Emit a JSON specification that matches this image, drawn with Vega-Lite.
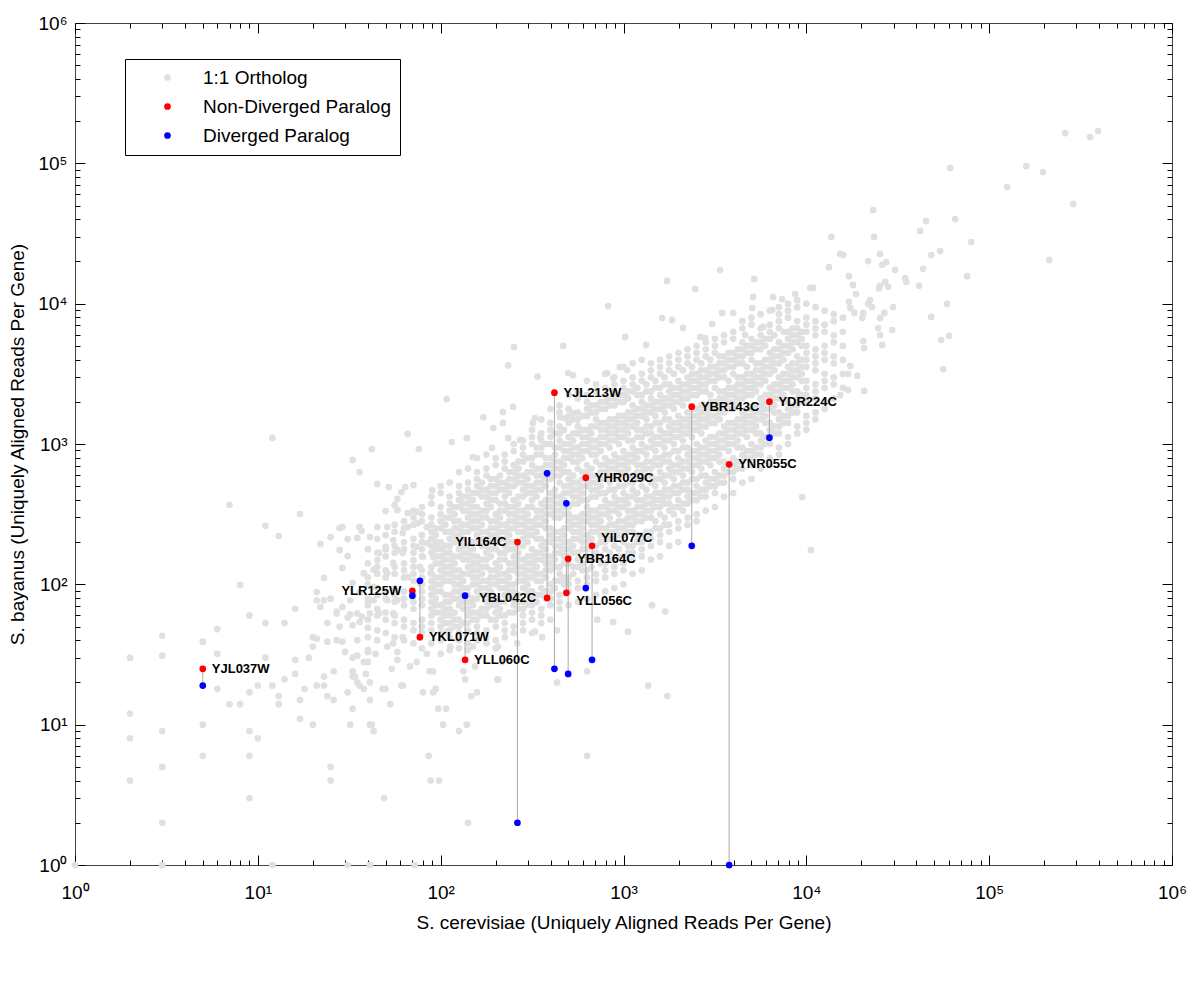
{
"$schema": "https://vega.github.io/schema/vega-lite/v6.json",
"width": 1097, "height": 842,
"autosize": {"type": "none"},
"padding": {"left": 75, "top": 23, "right": 28, "bottom": 117},
"background": "white",
"config": {"view": {"stroke": "#444444", "strokeWidth": 1}, "font": "Liberation Sans"},
"datasets": {
"paralog": [
{"gene":"YJL037W","sc":5,"Non-Diverged Paralog":25,"Diverged Paralog":19},
{"gene":"YLR125W","sc":70,"Non-Diverged Paralog":90,"Diverged Paralog":83},
{"gene":"YKL071W","sc":77,"Non-Diverged Paralog":42,"Diverged Paralog":106},
{"gene":"YLL060C","sc":136,"Non-Diverged Paralog":29,"Diverged Paralog":83},
{"gene":"YIL164C","sc":263,"Non-Diverged Paralog":200,"Diverged Paralog":2},
{"gene":"YBL042C","sc":382,"Non-Diverged Paralog":80,"Diverged Paralog":618},
{"gene":"YJL213W","sc":419,"Non-Diverged Paralog":2321,"Diverged Paralog":25},
{"gene":"YLL056C","sc":487,"Non-Diverged Paralog":87,"Diverged Paralog":378},
{"gene":"YBR164C","sc":498,"Non-Diverged Paralog":152,"Diverged Paralog":23},
{"gene":"YHR029C","sc":622,"Non-Diverged Paralog":575,"Diverged Paralog":94},
{"gene":"YIL077C","sc":673,"Non-Diverged Paralog":188,"Diverged Paralog":29},
{"gene":"YBR143C","sc":2362,"Non-Diverged Paralog":1845,"Diverged Paralog":188},
{"gene":"YNR055C","sc":3783,"Non-Diverged Paralog":717,"Diverged Paralog":1},
{"gene":"YDR224C","sc":6282,"Non-Diverged Paralog":2001,"Diverged Paralog":1109}
],
"ortholog": [
{"sc":2,"sb":30},{"sc":3,"sb":43},{"sc":3,"sb":31},{"sc":5,"sb":39},{"sc":6,"sb":48},{"sc":6,"sb":32},{"sc":6,"sb":18},{"sc":9,"sb":60},{"sc":11,"sb":53},{"sc":11,"sb":30},{"sc":9,"sb":17},{"sc":10,"sb":19},{"sc":7,"sb":14},{"sc":8,"sb":14},{"sc":2,"sb":12},{"sc":2,"sb":8},{"sc":2,"sb":4},{"sc":3,"sb":9},{"sc":3,"sb":5},{"sc":3,"sb":2},{"sc":5,"sb":10},{"sc":5,"sb":6},{"sc":9,"sb":9},{"sc":10,"sb":8},{"sc":9,"sb":6},{"sc":9,"sb":3},{"sc":14,"sb":53},{"sc":16,"sb":67},{"sc":16,"sb":29},{"sc":14,"sb":21},{"sc":16,"sb":23},{"sc":12,"sb":19},{"sc":13,"sb":16},{"sc":13,"sb":14},{"sc":18,"sb":18},{"sc":17,"sb":15},{"sc":17,"sb":11},{"sc":20,"sb":10},{"sc":19,"sb":30},{"sc":21,"sb":41},{"sc":20,"sb":36},{"sc":24,"sb":39},{"sc":21,"sb":19},{"sc":23,"sb":19},{"sc":24,"sb":16},{"sc":26,"sb":15},{"sc":25,"sb":5},{"sc":25,"sb":4},{"sc":32,"sb":10},{"sc":41,"sb":10},{"sc":43,"sb":9},{"sc":33,"sb":13},{"sc":31,"sb":17},{"sc":35,"sb":20},{"sc":38,"sb":18},{"sc":41,"sb":15},{"sc":33,"sb":22},{"sc":26,"sb":24},{"sc":23,"sb":22},{"sc":30,"sb":33},{"sc":35,"sb":31},{"sc":40,"sb":33},{"sc":40,"sb":28},{"sc":21,"sb":77},{"sc":22,"sb":69},{"sc":27,"sb":64},{"sc":32,"sb":61},{"sc":37,"sb":59},{"sc":40,"sb":74},{"sc":24,"sb":53},{"sc":28,"sb":50},{"sc":33,"sb":51},{"sc":36,"sb":54},{"sc":40,"sb":49},{"sc":20,"sb":42},{"sc":27,"sb":40},{"sc":29,"sb":39},{"sc":40,"sb":42},
{"sc":1,"sb":1},{"sc":3,"sb":1},{"sc":12,"sb":1},{"sc":31,"sb":1},{"sc":41,"sb":1},{"sc":72,"sb":1},
{"sc":7,"sb":369},{"sc":12,"sb":1104},{"sc":17,"sb":317},{"sc":11,"sb":261},{"sc":13,"sb":221},{"sc":8,"sb":99},{"sc":22,"sb":194},{"sc":25,"sb":217},{"sc":28,"sb":252},{"sc":33,"sb":770},{"sc":36,"sb":631},{"sc":42,"sb":921},{"sc":45,"sb":519},{"sc":52,"sb":494},{"sc":66,"sb":1180},{"sc":76,"sb":921},{"sc":71,"sb":510},{"sc":90,"sb":470},{"sc":64,"sb":494},{"sc":61,"sb":455},{"sc":58,"sb":406},{"sc":56,"sb":368},{"sc":50,"sb":333},{"sc":29,"sb":256},{"sc":36,"sb":256},{"sc":37,"sb":240},{"sc":45,"sb":256},{"sc":35,"sb":214},{"sc":31,"sb":210},{"sc":28,"sb":176},{"sc":31,"sb":159},{"sc":29,"sb":131},{"sc":23,"sb":111},{"sc":21,"sb":88},{"sc":23,"sb":77},{"sc":25,"sb":79},{"sc":27,"sb":62},{"sc":29,"sb":69},{"sc":32,"sb":77},{"sc":33,"sb":102},{"sc":38,"sb":120},{"sc":43,"sb":127},{"sc":45,"sb":149},{"sc":50,"sb":185},{"sc":55,"sb":207},{"sc":58,"sb":176},{"sc":62,"sb":232},{"sc":66,"sb":256},{"sc":75,"sb":274},{"sc":84,"sb":256},{"sc":91,"sb":236},{"sc":84,"sb":197},{"sc":80,"sb":157},{"sc":74,"sb":185},{"sc":71,"sb":149},{"sc":77,"sb":133},{"sc":88,"sb":120},{"sc":91,"sb":157},{"sc":97,"sb":185},{"sc":58,"sb":339},{"sc":66,"sb":322},{"sc":74,"sb":328},{"sc":51,"sb":256},{"sc":41,"sb":217},{"sc":46,"sb":167},{"sc":62,"sb":167},{"sc":55,"sb":142},{"sc":51,"sb":120},{"sc":66,"sb":113},{"sc":77,"sb":102},{"sc":91,"sb":96},{"sc":43,"sb":96},{"sc":36,"sb":87},{"sc":43,"sb":77},{"sc":51,"sb":77},{"sc":58,"sb":77},{"sc":35,"sb":62},{"sc":41,"sb":62},{"sc":46,"sb":62},{"sc":55,"sb":62},{"sc":31,"sb":58},
{"sc":86,"sb":6},{"sc":88,"sb":4},{"sc":98,"sb":4},{"sc":49,"sb":3},{"sc":141,"sb":2},{"sc":632,"sb":6},{"sc":126,"sb":9},{"sc":139,"sb":10},{"sc":103,"sb":10},{"sc":42,"sb":10},{"sc":97,"sb":13},{"sc":107,"sb":13},{"sc":53,"sb":14},{"sc":158,"sb":17},{"sc":147,"sb":16},{"sc":80,"sb":17},{"sc":91,"sb":17},{"sc":94,"sb":18},{"sc":61,"sb":19},{"sc":48,"sb":18},{"sc":206,"sb":21},{"sc":433,"sb":20},{"sc":632,"sb":24},{"sc":1364,"sb":19},{"sc":1738,"sb":16},{"sc":1059,"sb":46},{"sc":1433,"sb":71},{"sc":1690,"sb":64},{"sc":718,"sb":56},{"sc":877,"sb":54},{"sc":433,"sb":47},{"sc":328,"sb":46},{"sc":359,"sb":42},{"sc":262,"sb":38},{"sc":206,"sb":36},{"sc":217,"sb":28},{"sc":204,"sb":21},{"sc":150,"sb":36},{"sc":160,"sb":40},{"sc":133,"sb":24},{"sc":154,"sb":26},{"sc":136,"sb":21},{"sc":113,"sb":36},{"sc":108,"sb":46},{"sc":84,"sb":32},{"sc":87,"sb":24},{"sc":91,"sb":24},{"sc":68,"sb":26},{"sc":74,"sb":28},{"sc":62,"sb":19},{"sc":58,"sb":29},{"sc":54,"sb":25},{"sc":50,"sb":18},{"sc":39,"sb":23},{"sc":34,"sb":22},{"sc":41,"sb":20},{"sc":36,"sb":19},{"sc":33,"sb":24},{"sc":38,"sb":28},{"sc":44,"sb":32},{"sc":40,"sb":34},{"sc":35,"sb":40},{"sc":33,"sb":30},{"sc":45,"sb":40},{"sc":51,"sb":36},{"sc":55,"sb":38},{"sc":58,"sb":33},{"sc":62,"sb":42},
{"sc":252,"sb":4910},{"sc":468,"sb":5012},{"sc":234,"sb":3631},{"sc":339,"sb":3020},{"sc":498,"sb":3206},{"sc":530,"sb":3090},{"sc":108,"sb":2089},{"sc":171,"sb":1549},{"sc":219,"sb":1690},{"sc":249,"sb":1837},{"sc":115,"sb":1033},{"sc":139,"sb":1104},{"sc":194,"sb":1300},{"sc":219,"sb":1413},{"sc":328,"sb":1531},{"sc":320,"sb":1413},{"sc":150,"sb":807},{"sc":191,"sb":938},{"sc":234,"sb":1104},{"sc":272,"sb":1069},{"sc":350,"sb":1122},{"sc":450,"sb":1556},{"sc":479,"sb":1531},{"sc":530,"sb":1663},{"sc":1021,"sb":5794},{"sc":955,"sb":3540},{"sc":1047,"sb":3365},{"sc":813,"sb":3206},{"sc":877,"sb":2951},
{"sc":3373,"sb":17378},{"sc":1730,"sb":14521},{"sc":5176,"sb":14997},{"sc":2466,"sb":12735},{"sc":824,"sb":9616},{"sc":5117,"sb":11169},{"sc":6577,"sb":11169},{"sc":7379,"sb":10789},{"sc":8690,"sb":11722},{"sc":10495,"sb":12942},{"sc":10889,"sb":12942},{"sc":5058,"sb":9311},{"sc":6501,"sb":9016},{"sc":1626,"sb":7907},{"sc":1845,"sb":7656},{"sc":2118,"sb":6714},{"sc":3459,"sb":8590},{"sc":3981,"sb":8590},{"sc":3055,"sb":7161},{"sc":5808,"sb":6823},{"sc":1330,"sb":5082},{"sc":2624,"sb":5794},{"sc":2793,"sb":5689},{"sc":4624,"sb":5984},
{"sc":61200,"sb":92700},{"sc":159600,"sb":95700},{"sc":197000,"sb":86700},{"sc":125400,"sb":67800},{"sc":260600,"sb":164400},{"sc":356000,"sb":154000},{"sc":394500,"sb":170000},{"sc":288000,"sb":51300},{"sc":213000,"sb":20500},{"sc":79800,"sb":27500},{"sc":65200,"sb":40100},{"sc":75800,"sb":15700},{"sc":58900,"sb":9950},{"sc":48200,"sb":8040},{"sc":54600,"sb":5510},{"sc":60400,"sb":5890},{"sc":56000,"sb":3420},{"sc":45200,"sb":38800},{"sc":41900,"sb":33000},{"sc":54000,"sb":23700},{"sc":48200,"sb":22200},{"sc":43500,"sb":17700},{"sc":41400,"sb":13400},{"sc":35200,"sb":14300},{"sc":34700,"sb":15200},{"sc":30600,"sb":17400},{"sc":23200,"sb":46500},{"sc":23500,"sb":29900},{"sc":13700,"sb":29900},{"sc":15300,"sb":22600},{"sc":15900,"sb":22200},{"sc":13300,"sb":18200},{"sc":21800,"sb":20100},{"sc":25300,"sb":22600},{"sc":26000,"sb":18900},{"sc":27300,"sb":19800},{"sc":17100,"sb":15700},{"sc":18000,"sb":13600},{"sc":18700,"sb":11700},{"sc":25300,"sb":13400},{"sc":25000,"sb":12900},{"sc":27000,"sb":14300},{"sc":28000,"sb":13200},{"sc":29800,"sb":9460},{"sc":26700,"sb":8590},{"sc":25300,"sb":7910},{"sc":29500,"sb":6490},{"sc":24700,"sb":6710},{"sc":25300,"sb":5980},{"sc":26000,"sb":5080},{"sc":20500,"sb":5420},{"sc":20700,"sb":4830},{"sc":17400,"sb":3600},{"sc":16900,"sb":3160},{"sc":19000,"sb":3060},{"sc":20700,"sb":2390},{"sc":16900,"sb":2430},{"sc":15300,"sb":2230},{"sc":17100,"sb":10300},{"sc":17400,"sb":9310},{"sc":18300,"sb":8590},{"sc":22300,"sb":10600},{"sc":21800,"sb":9950},{"sc":22900,"sb":9460},{"sc":20500,"sb":8590},{"sc":20200,"sb":7910},{"sc":9480,"sb":419},{"sc":10600,"sb":176},
{"sc":40,"sb":56},{"sc":40,"sb":71},{"sc":40,"sb":79},{"sc":40,"sb":100},{"sc":40,"sb":112},{"sc":40,"sb":141},{"sc":40,"sb":178},
{"sc":45,"sb":47},{"sc":45,"sb":60},{"sc":45,"sb":67},{"sc":45,"sb":84},{"sc":45,"sb":94},{"sc":45,"sb":119},{"sc":45,"sb":133},{"sc":45,"sb":168},{"sc":45,"sb":211},
{"sc":50,"sb":45},{"sc":50,"sb":56},{"sc":50,"sb":63},{"sc":50,"sb":79},{"sc":50,"sb":89},{"sc":50,"sb":112},{"sc":50,"sb":126},{"sc":50,"sb":158},{"sc":50,"sb":178},{"sc":50,"sb":224},
{"sc":56,"sb":42},{"sc":56,"sb":53},{"sc":56,"sb":60},{"sc":56,"sb":75},{"sc":56,"sb":84},{"sc":56,"sb":94},{"sc":56,"sb":119},{"sc":56,"sb":133},{"sc":56,"sb":168},{"sc":56,"sb":188},{"sc":56,"sb":237},{"sc":56,"sb":266},
{"sc":63,"sb":40},{"sc":63,"sb":50},{"sc":63,"sb":56},{"sc":63,"sb":71},{"sc":63,"sb":79},{"sc":63,"sb":89},{"sc":63,"sb":112},{"sc":63,"sb":126},{"sc":63,"sb":141},{"sc":63,"sb":178},{"sc":63,"sb":200},{"sc":63,"sb":251},{"sc":63,"sb":282},
{"sc":71,"sb":38},{"sc":71,"sb":47},{"sc":71,"sb":53},{"sc":71,"sb":67},{"sc":71,"sb":75},{"sc":71,"sb":84},{"sc":71,"sb":106},{"sc":71,"sb":119},{"sc":71,"sb":133},{"sc":71,"sb":168},{"sc":71,"sb":188},{"sc":71,"sb":211},{"sc":71,"sb":266},{"sc":71,"sb":299},{"sc":71,"sb":335},
{"sc":79,"sb":35},{"sc":79,"sb":45},{"sc":79,"sb":50},{"sc":79,"sb":56},{"sc":79,"sb":71},{"sc":79,"sb":79},{"sc":79,"sb":89},{"sc":79,"sb":100},{"sc":79,"sb":112},{"sc":79,"sb":126},{"sc":79,"sb":158},{"sc":79,"sb":178},{"sc":79,"sb":200},{"sc":79,"sb":224},{"sc":79,"sb":282},{"sc":79,"sb":316},{"sc":79,"sb":355},
{"sc":89,"sb":38},{"sc":89,"sb":47},{"sc":89,"sb":53},{"sc":89,"sb":60},{"sc":89,"sb":67},{"sc":89,"sb":75},{"sc":89,"sb":84},{"sc":89,"sb":94},{"sc":89,"sb":106},{"sc":89,"sb":119},{"sc":89,"sb":133},{"sc":89,"sb":168},{"sc":89,"sb":188},{"sc":89,"sb":211},{"sc":89,"sb":237},{"sc":89,"sb":266},{"sc":89,"sb":299},{"sc":89,"sb":376},{"sc":89,"sb":422},
{"sc":100,"sb":32},{"sc":100,"sb":40},{"sc":100,"sb":45},{"sc":100,"sb":50},{"sc":100,"sb":56},{"sc":100,"sb":63},{"sc":100,"sb":71},{"sc":100,"sb":89},{"sc":100,"sb":100},{"sc":100,"sb":112},{"sc":100,"sb":126},{"sc":100,"sb":141},{"sc":100,"sb":158},{"sc":100,"sb":178},{"sc":100,"sb":200},{"sc":100,"sb":251},{"sc":100,"sb":282},{"sc":100,"sb":316},{"sc":100,"sb":355},{"sc":100,"sb":447},{"sc":100,"sb":501},
{"sc":112,"sb":34},{"sc":112,"sb":42},{"sc":112,"sb":47},{"sc":112,"sb":53},{"sc":112,"sb":60},{"sc":112,"sb":67},{"sc":112,"sb":75},{"sc":112,"sb":84},{"sc":112,"sb":106},{"sc":112,"sb":119},{"sc":112,"sb":133},{"sc":112,"sb":150},{"sc":112,"sb":168},{"sc":112,"sb":188},{"sc":112,"sb":211},{"sc":112,"sb":237},{"sc":112,"sb":299},{"sc":112,"sb":335},{"sc":112,"sb":376},{"sc":112,"sb":422},{"sc":112,"sb":531},
{"sc":126,"sb":35},{"sc":126,"sb":40},{"sc":126,"sb":45},{"sc":126,"sb":50},{"sc":126,"sb":56},{"sc":126,"sb":71},{"sc":126,"sb":79},{"sc":126,"sb":89},{"sc":126,"sb":100},{"sc":126,"sb":112},{"sc":126,"sb":126},{"sc":126,"sb":158},{"sc":126,"sb":178},{"sc":126,"sb":200},{"sc":126,"sb":224},{"sc":126,"sb":251},{"sc":126,"sb":282},{"sc":126,"sb":355},{"sc":126,"sb":398},{"sc":126,"sb":447},{"sc":126,"sb":501},{"sc":126,"sb":631},
{"sc":141,"sb":34},{"sc":141,"sb":38},{"sc":141,"sb":47},{"sc":141,"sb":53},{"sc":141,"sb":60},{"sc":141,"sb":67},{"sc":141,"sb":75},{"sc":141,"sb":84},{"sc":141,"sb":94},{"sc":141,"sb":119},{"sc":141,"sb":133},{"sc":141,"sb":150},{"sc":141,"sb":168},{"sc":141,"sb":188},{"sc":141,"sb":237},{"sc":141,"sb":266},{"sc":141,"sb":299},{"sc":141,"sb":335},{"sc":141,"sb":376},{"sc":141,"sb":422},{"sc":141,"sb":473},{"sc":141,"sb":531},{"sc":141,"sb":668},
{"sc":158,"sb":40},{"sc":158,"sb":45},{"sc":158,"sb":50},{"sc":158,"sb":56},{"sc":158,"sb":63},{"sc":158,"sb":79},{"sc":158,"sb":89},{"sc":158,"sb":100},{"sc":158,"sb":112},{"sc":158,"sb":126},{"sc":158,"sb":141},{"sc":158,"sb":158},{"sc":158,"sb":200},{"sc":158,"sb":224},{"sc":158,"sb":251},{"sc":158,"sb":282},{"sc":158,"sb":316},{"sc":158,"sb":355},{"sc":158,"sb":447},{"sc":158,"sb":501},{"sc":158,"sb":562},{"sc":158,"sb":631},{"sc":158,"sb":794},
{"sc":178,"sb":38},{"sc":178,"sb":42},{"sc":178,"sb":47},{"sc":178,"sb":60},{"sc":178,"sb":67},{"sc":178,"sb":75},{"sc":178,"sb":84},{"sc":178,"sb":94},{"sc":178,"sb":106},{"sc":178,"sb":133},{"sc":178,"sb":150},{"sc":178,"sb":168},{"sc":178,"sb":188},{"sc":178,"sb":211},{"sc":178,"sb":237},{"sc":178,"sb":299},{"sc":178,"sb":335},{"sc":178,"sb":376},{"sc":178,"sb":422},{"sc":178,"sb":473},{"sc":178,"sb":596},{"sc":178,"sb":668},{"sc":178,"sb":841},
{"sc":200,"sb":35},{"sc":200,"sb":40},{"sc":200,"sb":50},{"sc":200,"sb":56},{"sc":200,"sb":63},{"sc":200,"sb":71},{"sc":200,"sb":79},{"sc":200,"sb":100},{"sc":200,"sb":112},{"sc":200,"sb":126},{"sc":200,"sb":141},{"sc":200,"sb":178},{"sc":200,"sb":200},{"sc":200,"sb":224},{"sc":200,"sb":251},{"sc":200,"sb":282},{"sc":200,"sb":316},{"sc":200,"sb":398},{"sc":200,"sb":447},{"sc":200,"sb":501},{"sc":200,"sb":562},{"sc":200,"sb":708},{"sc":200,"sb":794},
{"sc":224,"sb":42},{"sc":224,"sb":47},{"sc":224,"sb":53},{"sc":224,"sb":60},{"sc":224,"sb":75},{"sc":224,"sb":84},{"sc":224,"sb":94},{"sc":224,"sb":106},{"sc":224,"sb":119},{"sc":224,"sb":150},{"sc":224,"sb":168},{"sc":224,"sb":188},{"sc":224,"sb":211},{"sc":224,"sb":237},{"sc":224,"sb":266},{"sc":224,"sb":335},{"sc":224,"sb":376},{"sc":224,"sb":422},{"sc":224,"sb":473},{"sc":224,"sb":531},{"sc":224,"sb":668},{"sc":224,"sb":750},{"sc":224,"sb":841},
{"sc":251,"sb":45},{"sc":251,"sb":50},{"sc":251,"sb":63},{"sc":251,"sb":71},{"sc":251,"sb":79},{"sc":251,"sb":89},{"sc":251,"sb":100},{"sc":251,"sb":126},{"sc":251,"sb":141},{"sc":251,"sb":158},{"sc":251,"sb":178},{"sc":251,"sb":200},{"sc":251,"sb":251},{"sc":251,"sb":282},{"sc":251,"sb":316},{"sc":251,"sb":355},{"sc":251,"sb":398},{"sc":251,"sb":501},{"sc":251,"sb":562},{"sc":251,"sb":631},{"sc":251,"sb":708},{"sc":251,"sb":891},{"sc":251,"sb":1000},
{"sc":282,"sb":47},{"sc":282,"sb":53},{"sc":282,"sb":60},{"sc":282,"sb":67},{"sc":282,"sb":75},{"sc":282,"sb":94},{"sc":282,"sb":106},{"sc":282,"sb":119},{"sc":282,"sb":133},{"sc":282,"sb":150},{"sc":282,"sb":188},{"sc":282,"sb":211},{"sc":282,"sb":237},{"sc":282,"sb":266},{"sc":282,"sb":299},{"sc":282,"sb":335},{"sc":282,"sb":422},{"sc":282,"sb":473},{"sc":282,"sb":531},{"sc":282,"sb":596},{"sc":282,"sb":750},{"sc":282,"sb":841},{"sc":282,"sb":944},{"sc":282,"sb":1059},
{"sc":316,"sb":45},{"sc":316,"sb":56},{"sc":316,"sb":63},{"sc":316,"sb":71},{"sc":316,"sb":79},{"sc":316,"sb":89},{"sc":316,"sb":112},{"sc":316,"sb":126},{"sc":316,"sb":141},{"sc":316,"sb":158},{"sc":316,"sb":178},{"sc":316,"sb":224},{"sc":316,"sb":251},{"sc":316,"sb":282},{"sc":316,"sb":355},{"sc":316,"sb":398},{"sc":316,"sb":447},{"sc":316,"sb":501},{"sc":316,"sb":631},{"sc":316,"sb":708},{"sc":316,"sb":794},{"sc":316,"sb":1000},{"sc":316,"sb":1122},{"sc":316,"sb":1259},
{"sc":355,"sb":53},{"sc":355,"sb":60},{"sc":355,"sb":67},{"sc":355,"sb":84},{"sc":355,"sb":94},{"sc":355,"sb":106},{"sc":355,"sb":119},{"sc":355,"sb":150},{"sc":355,"sb":168},{"sc":355,"sb":188},{"sc":355,"sb":211},{"sc":355,"sb":266},{"sc":355,"sb":299},{"sc":355,"sb":335},{"sc":355,"sb":376},{"sc":355,"sb":473},{"sc":355,"sb":531},{"sc":355,"sb":596},{"sc":355,"sb":668},{"sc":355,"sb":841},{"sc":355,"sb":944},{"sc":355,"sb":1059},{"sc":355,"sb":1189},{"sc":355,"sb":1496},
{"sc":398,"sb":56},{"sc":398,"sb":71},{"sc":398,"sb":79},{"sc":398,"sb":89},{"sc":398,"sb":100},{"sc":398,"sb":126},{"sc":398,"sb":141},{"sc":398,"sb":158},{"sc":398,"sb":200},{"sc":398,"sb":224},{"sc":398,"sb":251},{"sc":398,"sb":316},{"sc":398,"sb":355},{"sc":398,"sb":398},{"sc":398,"sb":447},{"sc":398,"sb":562},{"sc":398,"sb":631},{"sc":398,"sb":708},{"sc":398,"sb":794},{"sc":398,"sb":1000},{"sc":398,"sb":1122},{"sc":398,"sb":1259},{"sc":398,"sb":1413},{"sc":398,"sb":1778},
{"sc":447,"sb":67},{"sc":447,"sb":75},{"sc":447,"sb":84},{"sc":447,"sb":106},{"sc":447,"sb":119},{"sc":447,"sb":133},{"sc":447,"sb":168},{"sc":447,"sb":188},{"sc":447,"sb":211},{"sc":447,"sb":237},{"sc":447,"sb":299},{"sc":447,"sb":335},{"sc":447,"sb":376},{"sc":447,"sb":422},{"sc":447,"sb":531},{"sc":447,"sb":596},{"sc":447,"sb":668},{"sc":447,"sb":750},{"sc":447,"sb":944},{"sc":447,"sb":1059},{"sc":447,"sb":1189},{"sc":447,"sb":1334},{"sc":447,"sb":1679},{"sc":447,"sb":1884},
{"sc":501,"sb":71},{"sc":501,"sb":89},{"sc":501,"sb":100},{"sc":501,"sb":112},{"sc":501,"sb":141},{"sc":501,"sb":158},{"sc":501,"sb":178},{"sc":501,"sb":200},{"sc":501,"sb":251},{"sc":501,"sb":282},{"sc":501,"sb":316},{"sc":501,"sb":355},{"sc":501,"sb":447},{"sc":501,"sb":501},{"sc":501,"sb":562},{"sc":501,"sb":631},{"sc":501,"sb":794},{"sc":501,"sb":891},{"sc":501,"sb":1000},{"sc":501,"sb":1122},{"sc":501,"sb":1413},{"sc":501,"sb":1585},{"sc":501,"sb":1778},{"sc":501,"sb":2239},
{"sc":562,"sb":75},{"sc":562,"sb":94},{"sc":562,"sb":106},{"sc":562,"sb":133},{"sc":562,"sb":150},{"sc":562,"sb":168},{"sc":562,"sb":211},{"sc":562,"sb":237},{"sc":562,"sb":266},{"sc":562,"sb":299},{"sc":562,"sb":376},{"sc":562,"sb":422},{"sc":562,"sb":473},{"sc":562,"sb":531},{"sc":562,"sb":668},{"sc":562,"sb":750},{"sc":562,"sb":841},{"sc":562,"sb":944},{"sc":562,"sb":1189},{"sc":562,"sb":1334},{"sc":562,"sb":1496},{"sc":562,"sb":1679},{"sc":562,"sb":2113},{"sc":562,"sb":2371},
{"sc":631,"sb":79},{"sc":631,"sb":100},{"sc":631,"sb":112},{"sc":631,"sb":126},{"sc":631,"sb":158},{"sc":631,"sb":178},{"sc":631,"sb":200},{"sc":631,"sb":224},{"sc":631,"sb":282},{"sc":631,"sb":316},{"sc":631,"sb":355},{"sc":631,"sb":398},{"sc":631,"sb":501},{"sc":631,"sb":562},{"sc":631,"sb":631},{"sc":631,"sb":708},{"sc":631,"sb":891},{"sc":631,"sb":1000},{"sc":631,"sb":1122},{"sc":631,"sb":1259},{"sc":631,"sb":1585},{"sc":631,"sb":1778},{"sc":631,"sb":1995},{"sc":631,"sb":2239},{"sc":631,"sb":2818},
{"sc":708,"sb":84},{"sc":708,"sb":106},{"sc":708,"sb":119},{"sc":708,"sb":150},{"sc":708,"sb":168},{"sc":708,"sb":188},{"sc":708,"sb":237},{"sc":708,"sb":266},{"sc":708,"sb":299},{"sc":708,"sb":335},{"sc":708,"sb":422},{"sc":708,"sb":473},{"sc":708,"sb":531},{"sc":708,"sb":596},{"sc":708,"sb":750},{"sc":708,"sb":841},{"sc":708,"sb":944},{"sc":708,"sb":1059},{"sc":708,"sb":1334},{"sc":708,"sb":1496},{"sc":708,"sb":1679},{"sc":708,"sb":1884},{"sc":708,"sb":2371},{"sc":708,"sb":2661},
{"sc":794,"sb":89},{"sc":794,"sb":112},{"sc":794,"sb":126},{"sc":794,"sb":141},{"sc":794,"sb":178},{"sc":794,"sb":200},{"sc":794,"sb":224},{"sc":794,"sb":251},{"sc":794,"sb":316},{"sc":794,"sb":355},{"sc":794,"sb":398},{"sc":794,"sb":447},{"sc":794,"sb":562},{"sc":794,"sb":631},{"sc":794,"sb":708},{"sc":794,"sb":794},{"sc":794,"sb":1000},{"sc":794,"sb":1122},{"sc":794,"sb":1259},{"sc":794,"sb":1413},{"sc":794,"sb":1778},{"sc":794,"sb":1995},{"sc":794,"sb":2239},{"sc":794,"sb":2512},{"sc":794,"sb":3162},
{"sc":891,"sb":94},{"sc":891,"sb":119},{"sc":891,"sb":133},{"sc":891,"sb":150},{"sc":891,"sb":188},{"sc":891,"sb":211},{"sc":891,"sb":237},{"sc":891,"sb":266},{"sc":891,"sb":335},{"sc":891,"sb":376},{"sc":891,"sb":422},{"sc":891,"sb":473},{"sc":891,"sb":596},{"sc":891,"sb":668},{"sc":891,"sb":750},{"sc":891,"sb":841},{"sc":891,"sb":1059},{"sc":891,"sb":1189},{"sc":891,"sb":1334},{"sc":891,"sb":1496},{"sc":891,"sb":1884},{"sc":891,"sb":2113},{"sc":891,"sb":2371},{"sc":891,"sb":2661},{"sc":891,"sb":2985},
{"sc":1000,"sb":100},{"sc":1000,"sb":126},{"sc":1000,"sb":141},{"sc":1000,"sb":158},{"sc":1000,"sb":200},{"sc":1000,"sb":224},{"sc":1000,"sb":251},{"sc":1000,"sb":282},{"sc":1000,"sb":355},{"sc":1000,"sb":398},{"sc":1000,"sb":447},{"sc":1000,"sb":501},{"sc":1000,"sb":631},{"sc":1000,"sb":708},{"sc":1000,"sb":794},{"sc":1000,"sb":891},{"sc":1000,"sb":1122},{"sc":1000,"sb":1259},{"sc":1000,"sb":1413},{"sc":1000,"sb":1585},{"sc":1000,"sb":1995},{"sc":1000,"sb":2239},{"sc":1000,"sb":2512},{"sc":1000,"sb":2818},{"sc":1000,"sb":3548},
{"sc":1122,"sb":119},{"sc":1122,"sb":150},{"sc":1122,"sb":168},{"sc":1122,"sb":188},{"sc":1122,"sb":237},{"sc":1122,"sb":266},{"sc":1122,"sb":299},{"sc":1122,"sb":335},{"sc":1122,"sb":422},{"sc":1122,"sb":473},{"sc":1122,"sb":531},{"sc":1122,"sb":596},{"sc":1122,"sb":750},{"sc":1122,"sb":841},{"sc":1122,"sb":944},{"sc":1122,"sb":1059},{"sc":1122,"sb":1334},{"sc":1122,"sb":1496},{"sc":1122,"sb":1679},{"sc":1122,"sb":1884},{"sc":1122,"sb":2371},{"sc":1122,"sb":2661},{"sc":1122,"sb":2985},{"sc":1122,"sb":3758},
{"sc":1259,"sb":126},{"sc":1259,"sb":158},{"sc":1259,"sb":178},{"sc":1259,"sb":200},{"sc":1259,"sb":224},{"sc":1259,"sb":282},{"sc":1259,"sb":316},{"sc":1259,"sb":355},{"sc":1259,"sb":398},{"sc":1259,"sb":501},{"sc":1259,"sb":562},{"sc":1259,"sb":631},{"sc":1259,"sb":708},{"sc":1259,"sb":891},{"sc":1259,"sb":1000},{"sc":1259,"sb":1122},{"sc":1259,"sb":1259},{"sc":1259,"sb":1585},{"sc":1259,"sb":1778},{"sc":1259,"sb":1995},{"sc":1259,"sb":2239},{"sc":1259,"sb":2818},{"sc":1259,"sb":3162},{"sc":1259,"sb":3981},
{"sc":1413,"sb":150},{"sc":1413,"sb":188},{"sc":1413,"sb":211},{"sc":1413,"sb":237},{"sc":1413,"sb":299},{"sc":1413,"sb":335},{"sc":1413,"sb":376},{"sc":1413,"sb":422},{"sc":1413,"sb":531},{"sc":1413,"sb":596},{"sc":1413,"sb":668},{"sc":1413,"sb":750},{"sc":1413,"sb":944},{"sc":1413,"sb":1059},{"sc":1413,"sb":1189},{"sc":1413,"sb":1334},{"sc":1413,"sb":1679},{"sc":1413,"sb":1884},{"sc":1413,"sb":2113},{"sc":1413,"sb":2371},{"sc":1413,"sb":2985},{"sc":1413,"sb":3350},{"sc":1413,"sb":3758},
{"sc":1585,"sb":158},{"sc":1585,"sb":200},{"sc":1585,"sb":224},{"sc":1585,"sb":251},{"sc":1585,"sb":316},{"sc":1585,"sb":355},{"sc":1585,"sb":398},{"sc":1585,"sb":447},{"sc":1585,"sb":562},{"sc":1585,"sb":631},{"sc":1585,"sb":708},{"sc":1585,"sb":794},{"sc":1585,"sb":1000},{"sc":1585,"sb":1122},{"sc":1585,"sb":1259},{"sc":1585,"sb":1413},{"sc":1585,"sb":1778},{"sc":1585,"sb":1995},{"sc":1585,"sb":2239},{"sc":1585,"sb":2512},{"sc":1585,"sb":3162},{"sc":1585,"sb":3548},{"sc":1585,"sb":3981},
{"sc":1778,"sb":188},{"sc":1778,"sb":237},{"sc":1778,"sb":266},{"sc":1778,"sb":335},{"sc":1778,"sb":376},{"sc":1778,"sb":422},{"sc":1778,"sb":473},{"sc":1778,"sb":596},{"sc":1778,"sb":668},{"sc":1778,"sb":750},{"sc":1778,"sb":841},{"sc":1778,"sb":1059},{"sc":1778,"sb":1189},{"sc":1778,"sb":1334},{"sc":1778,"sb":1496},{"sc":1778,"sb":1884},{"sc":1778,"sb":2113},{"sc":1778,"sb":2371},{"sc":1778,"sb":2661},{"sc":1778,"sb":3350},{"sc":1778,"sb":3758},{"sc":1778,"sb":4217},
{"sc":1995,"sb":200},{"sc":1995,"sb":251},{"sc":1995,"sb":282},{"sc":1995,"sb":355},{"sc":1995,"sb":398},{"sc":1995,"sb":447},{"sc":1995,"sb":501},{"sc":1995,"sb":631},{"sc":1995,"sb":708},{"sc":1995,"sb":794},{"sc":1995,"sb":891},{"sc":1995,"sb":1122},{"sc":1995,"sb":1259},{"sc":1995,"sb":1413},{"sc":1995,"sb":1585},{"sc":1995,"sb":1995},{"sc":1995,"sb":2239},{"sc":1995,"sb":2512},{"sc":1995,"sb":2818},{"sc":1995,"sb":3548},{"sc":1995,"sb":3981},{"sc":1995,"sb":4467},
{"sc":2239,"sb":266},{"sc":2239,"sb":299},{"sc":2239,"sb":376},{"sc":2239,"sb":422},{"sc":2239,"sb":473},{"sc":2239,"sb":531},{"sc":2239,"sb":668},{"sc":2239,"sb":750},{"sc":2239,"sb":841},{"sc":2239,"sb":944},{"sc":2239,"sb":1189},{"sc":2239,"sb":1334},{"sc":2239,"sb":1496},{"sc":2239,"sb":1679},{"sc":2239,"sb":2113},{"sc":2239,"sb":2371},{"sc":2239,"sb":2661},{"sc":2239,"sb":2985},{"sc":2239,"sb":3758},{"sc":2239,"sb":4217},{"sc":2239,"sb":4732},
{"sc":2512,"sb":282},{"sc":2512,"sb":316},{"sc":2512,"sb":398},{"sc":2512,"sb":447},{"sc":2512,"sb":501},{"sc":2512,"sb":562},{"sc":2512,"sb":708},{"sc":2512,"sb":794},{"sc":2512,"sb":891},{"sc":2512,"sb":1000},{"sc":2512,"sb":1259},{"sc":2512,"sb":1413},{"sc":2512,"sb":1585},{"sc":2512,"sb":1778},{"sc":2512,"sb":2239},{"sc":2512,"sb":2512},{"sc":2512,"sb":2818},{"sc":2512,"sb":3162},{"sc":2512,"sb":3981},{"sc":2512,"sb":4467},{"sc":2512,"sb":5012},
{"sc":2818,"sb":335},{"sc":2818,"sb":422},{"sc":2818,"sb":473},{"sc":2818,"sb":531},{"sc":2818,"sb":596},{"sc":2818,"sb":750},{"sc":2818,"sb":841},{"sc":2818,"sb":944},{"sc":2818,"sb":1059},{"sc":2818,"sb":1334},{"sc":2818,"sb":1496},{"sc":2818,"sb":1679},{"sc":2818,"sb":1884},{"sc":2818,"sb":2371},{"sc":2818,"sb":2661},{"sc":2818,"sb":2985},{"sc":2818,"sb":3350},{"sc":2818,"sb":4217},{"sc":2818,"sb":4732},{"sc":2818,"sb":5309},
{"sc":3162,"sb":355},{"sc":3162,"sb":447},{"sc":3162,"sb":501},{"sc":3162,"sb":562},{"sc":3162,"sb":631},{"sc":3162,"sb":794},{"sc":3162,"sb":891},{"sc":3162,"sb":1000},{"sc":3162,"sb":1122},{"sc":3162,"sb":1413},{"sc":3162,"sb":1585},{"sc":3162,"sb":1778},{"sc":3162,"sb":1995},{"sc":3162,"sb":2512},{"sc":3162,"sb":2818},{"sc":3162,"sb":3162},{"sc":3162,"sb":3548},{"sc":3162,"sb":4467},{"sc":3162,"sb":5012},{"sc":3162,"sb":5623},
{"sc":3548,"sb":422},{"sc":3548,"sb":531},{"sc":3548,"sb":596},{"sc":3548,"sb":668},{"sc":3548,"sb":750},{"sc":3548,"sb":944},{"sc":3548,"sb":1059},{"sc":3548,"sb":1189},{"sc":3548,"sb":1334},{"sc":3548,"sb":1679},{"sc":3548,"sb":1884},{"sc":3548,"sb":2113},{"sc":3548,"sb":2371},{"sc":3548,"sb":2985},{"sc":3548,"sb":3350},{"sc":3548,"sb":3758},{"sc":3548,"sb":4217},{"sc":3548,"sb":5309},{"sc":3548,"sb":5957},
{"sc":3981,"sb":447},{"sc":3981,"sb":562},{"sc":3981,"sb":631},{"sc":3981,"sb":708},{"sc":3981,"sb":794},{"sc":3981,"sb":1000},{"sc":3981,"sb":1122},{"sc":3981,"sb":1259},{"sc":3981,"sb":1413},{"sc":3981,"sb":1778},{"sc":3981,"sb":1995},{"sc":3981,"sb":2239},{"sc":3981,"sb":2512},{"sc":3981,"sb":3162},{"sc":3981,"sb":3548},{"sc":3981,"sb":3981},{"sc":3981,"sb":4467},{"sc":3981,"sb":5623},{"sc":3981,"sb":6310},
{"sc":4467,"sb":531},{"sc":4467,"sb":668},{"sc":4467,"sb":750},{"sc":4467,"sb":841},{"sc":4467,"sb":944},{"sc":4467,"sb":1189},{"sc":4467,"sb":1334},{"sc":4467,"sb":1496},{"sc":4467,"sb":1679},{"sc":4467,"sb":2113},{"sc":4467,"sb":2371},{"sc":4467,"sb":2661},{"sc":4467,"sb":2985},{"sc":4467,"sb":3758},{"sc":4467,"sb":4217},{"sc":4467,"sb":4732},{"sc":4467,"sb":5309},{"sc":4467,"sb":6683},{"sc":4467,"sb":7499},
{"sc":5012,"sb":562},{"sc":5012,"sb":708},{"sc":5012,"sb":794},{"sc":5012,"sb":891},{"sc":5012,"sb":1000},{"sc":5012,"sb":1259},{"sc":5012,"sb":1413},{"sc":5012,"sb":1585},{"sc":5012,"sb":1778},{"sc":5012,"sb":2239},{"sc":5012,"sb":2512},{"sc":5012,"sb":2818},{"sc":5012,"sb":3162},{"sc":5012,"sb":3981},{"sc":5012,"sb":4467},{"sc":5012,"sb":5012},{"sc":5012,"sb":5623},{"sc":5012,"sb":7079},{"sc":5012,"sb":7943},
{"sc":5623,"sb":668},{"sc":5623,"sb":841},{"sc":5623,"sb":944},{"sc":5623,"sb":1059},{"sc":5623,"sb":1189},{"sc":5623,"sb":1496},{"sc":5623,"sb":1679},{"sc":5623,"sb":1884},{"sc":5623,"sb":2113},{"sc":5623,"sb":2661},{"sc":5623,"sb":2985},{"sc":5623,"sb":3350},{"sc":5623,"sb":3758},{"sc":5623,"sb":4732},{"sc":5623,"sb":5309},{"sc":5623,"sb":5957},{"sc":5623,"sb":6683},{"sc":5623,"sb":8414},
{"sc":6310,"sb":708},{"sc":6310,"sb":794},{"sc":6310,"sb":1000},{"sc":6310,"sb":1122},{"sc":6310,"sb":1259},{"sc":6310,"sb":1413},{"sc":6310,"sb":1778},{"sc":6310,"sb":1995},{"sc":6310,"sb":2239},{"sc":6310,"sb":2512},{"sc":6310,"sb":3162},{"sc":6310,"sb":3548},{"sc":6310,"sb":3981},{"sc":6310,"sb":4467},{"sc":6310,"sb":5623},{"sc":6310,"sb":6310},{"sc":6310,"sb":7079},{"sc":6310,"sb":8913},
{"sc":7079,"sb":841},{"sc":7079,"sb":944},{"sc":7079,"sb":1189},{"sc":7079,"sb":1334},{"sc":7079,"sb":1496},{"sc":7079,"sb":1679},{"sc":7079,"sb":2113},{"sc":7079,"sb":2371},{"sc":7079,"sb":2661},{"sc":7079,"sb":2985},{"sc":7079,"sb":3758},{"sc":7079,"sb":4217},{"sc":7079,"sb":4732},{"sc":7079,"sb":5309},{"sc":7079,"sb":6683},{"sc":7079,"sb":7499},{"sc":7079,"sb":8414},{"sc":7079,"sb":9441},
{"sc":7943,"sb":1000},{"sc":7943,"sb":1122},{"sc":7943,"sb":1413},{"sc":7943,"sb":1585},{"sc":7943,"sb":1778},{"sc":7943,"sb":1995},{"sc":7943,"sb":2512},{"sc":7943,"sb":2818},{"sc":7943,"sb":3162},{"sc":7943,"sb":3548},{"sc":7943,"sb":4467},{"sc":7943,"sb":5012},{"sc":7943,"sb":5623},{"sc":7943,"sb":6310},{"sc":7943,"sb":7943},{"sc":7943,"sb":8913},{"sc":7943,"sb":10000},
{"sc":8913,"sb":1189},{"sc":8913,"sb":1334},{"sc":8913,"sb":1679},{"sc":8913,"sb":1884},{"sc":8913,"sb":2113},{"sc":8913,"sb":2371},{"sc":8913,"sb":2985},{"sc":8913,"sb":3350},{"sc":8913,"sb":3758},{"sc":8913,"sb":4217},{"sc":8913,"sb":5309},{"sc":8913,"sb":5957},{"sc":8913,"sb":6683},{"sc":8913,"sb":7499},{"sc":8913,"sb":9441},{"sc":8913,"sb":10593},
{"sc":10000,"sb":1259},{"sc":10000,"sb":1413},{"sc":10000,"sb":1585},{"sc":10000,"sb":1995},{"sc":10000,"sb":2239},{"sc":10000,"sb":2512},{"sc":10000,"sb":2818},{"sc":10000,"sb":3548},{"sc":10000,"sb":3981},{"sc":10000,"sb":4467},{"sc":10000,"sb":5012},{"sc":10000,"sb":6310},{"sc":10000,"sb":7079},{"sc":10000,"sb":7943},{"sc":10000,"sb":10000},
{"sc":11220,"sb":1496},{"sc":11220,"sb":1679},{"sc":11220,"sb":2113},{"sc":11220,"sb":2371},{"sc":11220,"sb":2661},{"sc":11220,"sb":3350},{"sc":11220,"sb":3758},{"sc":11220,"sb":4217},{"sc":11220,"sb":4732},{"sc":11220,"sb":5957},{"sc":11220,"sb":6683},{"sc":11220,"sb":7499},{"sc":11220,"sb":9441},
{"sc":12589,"sb":1778},{"sc":12589,"sb":1995},{"sc":12589,"sb":2512},{"sc":12589,"sb":2818},{"sc":12589,"sb":3162},{"sc":12589,"sb":3981},{"sc":12589,"sb":4467},{"sc":12589,"sb":5012},{"sc":12589,"sb":6310},{"sc":12589,"sb":7079},{"sc":12589,"sb":8913},
{"sc":14125,"sb":2113},{"sc":14125,"sb":2661},{"sc":14125,"sb":2985},{"sc":14125,"sb":3758},{"sc":14125,"sb":4217},{"sc":14125,"sb":5309},{"sc":14125,"sb":5957},{"sc":14125,"sb":7499},{"sc":14125,"sb":8414},
{"sc":15849,"sb":2512},{"sc":15849,"sb":3162},{"sc":15849,"sb":3981},{"sc":15849,"sb":5012},{"sc":15849,"sb":6310},{"sc":15849,"sb":7943},
{"sc":94,"sb":63},{"sc":94,"sb":71},{"sc":94,"sb":79},{"sc":94,"sb":89},{"sc":94,"sb":100},{"sc":94,"sb":112},{"sc":94,"sb":141},{"sc":94,"sb":158},{"sc":94,"sb":178},{"sc":94,"sb":200},{"sc":94,"sb":224},{"sc":94,"sb":251},
{"sc":106,"sb":53},{"sc":106,"sb":60},{"sc":106,"sb":67},{"sc":106,"sb":75},{"sc":106,"sb":84},{"sc":106,"sb":106},{"sc":106,"sb":119},{"sc":106,"sb":133},{"sc":106,"sb":150},{"sc":106,"sb":168},{"sc":106,"sb":188},{"sc":106,"sb":237},{"sc":106,"sb":266},{"sc":106,"sb":299},
{"sc":119,"sb":50},{"sc":119,"sb":56},{"sc":119,"sb":63},{"sc":119,"sb":79},{"sc":119,"sb":89},{"sc":119,"sb":100},{"sc":119,"sb":112},{"sc":119,"sb":126},{"sc":119,"sb":141},{"sc":119,"sb":158},{"sc":119,"sb":200},{"sc":119,"sb":224},{"sc":119,"sb":251},{"sc":119,"sb":282},{"sc":119,"sb":316},{"sc":119,"sb":355},
{"sc":133,"sb":53},{"sc":133,"sb":67},{"sc":133,"sb":75},{"sc":133,"sb":84},{"sc":133,"sb":94},{"sc":133,"sb":106},{"sc":133,"sb":119},{"sc":133,"sb":150},{"sc":133,"sb":168},{"sc":133,"sb":188},{"sc":133,"sb":211},{"sc":133,"sb":237},{"sc":133,"sb":266},{"sc":133,"sb":335},{"sc":133,"sb":376},{"sc":133,"sb":422},
{"sc":150,"sb":56},{"sc":150,"sb":63},{"sc":150,"sb":71},{"sc":150,"sb":79},{"sc":150,"sb":100},{"sc":150,"sb":112},{"sc":150,"sb":126},{"sc":150,"sb":141},{"sc":150,"sb":158},{"sc":150,"sb":178},{"sc":150,"sb":200},{"sc":150,"sb":251},{"sc":150,"sb":282},{"sc":150,"sb":316},{"sc":150,"sb":355},{"sc":150,"sb":398},{"sc":150,"sb":447},
{"sc":168,"sb":60},{"sc":168,"sb":67},{"sc":168,"sb":84},{"sc":168,"sb":94},{"sc":168,"sb":106},{"sc":168,"sb":119},{"sc":168,"sb":133},{"sc":168,"sb":150},{"sc":168,"sb":188},{"sc":168,"sb":211},{"sc":168,"sb":237},{"sc":168,"sb":266},{"sc":168,"sb":299},{"sc":168,"sb":335},{"sc":168,"sb":422},{"sc":168,"sb":473},{"sc":168,"sb":531},
{"sc":188,"sb":56},{"sc":188,"sb":71},{"sc":188,"sb":79},{"sc":188,"sb":89},{"sc":188,"sb":100},{"sc":188,"sb":112},{"sc":188,"sb":126},{"sc":188,"sb":158},{"sc":188,"sb":178},{"sc":188,"sb":200},{"sc":188,"sb":224},{"sc":188,"sb":251},{"sc":188,"sb":282},{"sc":188,"sb":355},{"sc":188,"sb":398},{"sc":188,"sb":447},{"sc":188,"sb":501},{"sc":188,"sb":562},
{"sc":211,"sb":60},{"sc":211,"sb":67},{"sc":211,"sb":75},{"sc":211,"sb":94},{"sc":211,"sb":106},{"sc":211,"sb":119},{"sc":211,"sb":133},{"sc":211,"sb":150},{"sc":211,"sb":168},{"sc":211,"sb":211},{"sc":211,"sb":237},{"sc":211,"sb":266},{"sc":211,"sb":299},{"sc":211,"sb":335},{"sc":211,"sb":376},{"sc":211,"sb":473},{"sc":211,"sb":531},{"sc":211,"sb":596},
{"sc":237,"sb":63},{"sc":237,"sb":79},{"sc":237,"sb":89},{"sc":237,"sb":100},{"sc":237,"sb":112},{"sc":237,"sb":126},{"sc":237,"sb":141},{"sc":237,"sb":178},{"sc":237,"sb":200},{"sc":237,"sb":224},{"sc":237,"sb":251},{"sc":237,"sb":282},{"sc":237,"sb":316},{"sc":237,"sb":355},{"sc":237,"sb":447},{"sc":237,"sb":501},{"sc":237,"sb":562},{"sc":237,"sb":631},
{"sc":266,"sb":67},{"sc":266,"sb":75},{"sc":266,"sb":84},{"sc":266,"sb":106},{"sc":266,"sb":119},{"sc":266,"sb":133},{"sc":266,"sb":150},{"sc":266,"sb":168},{"sc":266,"sb":188},{"sc":266,"sb":237},{"sc":266,"sb":266},{"sc":266,"sb":299},{"sc":266,"sb":335},{"sc":266,"sb":376},{"sc":266,"sb":422},{"sc":266,"sb":531},{"sc":266,"sb":596},{"sc":266,"sb":668},{"sc":266,"sb":750},
{"sc":299,"sb":71},{"sc":299,"sb":89},{"sc":299,"sb":100},{"sc":299,"sb":112},{"sc":299,"sb":126},{"sc":299,"sb":141},{"sc":299,"sb":158},{"sc":299,"sb":200},{"sc":299,"sb":224},{"sc":299,"sb":251},{"sc":299,"sb":282},{"sc":299,"sb":316},{"sc":299,"sb":355},{"sc":299,"sb":447},{"sc":299,"sb":501},{"sc":299,"sb":562},{"sc":299,"sb":631},{"sc":299,"sb":794},
{"sc":335,"sb":75},{"sc":335,"sb":84},{"sc":335,"sb":106},{"sc":335,"sb":119},{"sc":335,"sb":133},{"sc":335,"sb":150},{"sc":335,"sb":168},{"sc":335,"sb":211},{"sc":335,"sb":237},{"sc":335,"sb":266},{"sc":335,"sb":299},{"sc":335,"sb":335},{"sc":335,"sb":422},{"sc":335,"sb":473},{"sc":335,"sb":531},{"sc":335,"sb":596},{"sc":335,"sb":668},{"sc":335,"sb":841},{"sc":335,"sb":944},
{"sc":376,"sb":79},{"sc":376,"sb":89},{"sc":376,"sb":112},{"sc":376,"sb":126},{"sc":376,"sb":141},{"sc":376,"sb":158},{"sc":376,"sb":178},{"sc":376,"sb":200},{"sc":376,"sb":251},{"sc":376,"sb":282},{"sc":376,"sb":316},{"sc":376,"sb":355},{"sc":376,"sb":398},{"sc":376,"sb":501},{"sc":376,"sb":562},{"sc":376,"sb":631},{"sc":376,"sb":708},{"sc":376,"sb":794},{"sc":376,"sb":1000},
{"sc":422,"sb":94},{"sc":422,"sb":106},{"sc":422,"sb":133},{"sc":422,"sb":150},{"sc":422,"sb":168},{"sc":422,"sb":188},{"sc":422,"sb":211},{"sc":422,"sb":237},{"sc":422,"sb":299},{"sc":422,"sb":335},{"sc":422,"sb":376},{"sc":422,"sb":422},{"sc":422,"sb":473},{"sc":422,"sb":596},{"sc":422,"sb":668},{"sc":422,"sb":750},{"sc":422,"sb":841},{"sc":422,"sb":944},{"sc":422,"sb":1189},
{"sc":473,"sb":100},{"sc":473,"sb":112},{"sc":473,"sb":141},{"sc":473,"sb":158},{"sc":473,"sb":178},{"sc":473,"sb":200},{"sc":473,"sb":224},{"sc":473,"sb":251},{"sc":473,"sb":316},{"sc":473,"sb":355},{"sc":473,"sb":398},{"sc":473,"sb":447},{"sc":473,"sb":501},{"sc":473,"sb":631},{"sc":473,"sb":708},{"sc":473,"sb":794},{"sc":473,"sb":891},{"sc":473,"sb":1000},{"sc":473,"sb":1259},
{"sc":531,"sb":119},{"sc":531,"sb":133},{"sc":531,"sb":168},{"sc":531,"sb":188},{"sc":531,"sb":211},{"sc":531,"sb":237},{"sc":531,"sb":266},{"sc":531,"sb":299},{"sc":531,"sb":376},{"sc":531,"sb":422},{"sc":531,"sb":473},{"sc":531,"sb":531},{"sc":531,"sb":596},{"sc":531,"sb":750},{"sc":531,"sb":841},{"sc":531,"sb":944},{"sc":531,"sb":1059},{"sc":531,"sb":1189},{"sc":531,"sb":1496},
{"sc":596,"sb":126},{"sc":596,"sb":141},{"sc":596,"sb":178},{"sc":596,"sb":200},{"sc":596,"sb":224},{"sc":596,"sb":251},{"sc":596,"sb":282},{"sc":596,"sb":316},{"sc":596,"sb":398},{"sc":596,"sb":447},{"sc":596,"sb":501},{"sc":596,"sb":562},{"sc":596,"sb":631},{"sc":596,"sb":794},{"sc":596,"sb":891},{"sc":596,"sb":1000},{"sc":596,"sb":1122},{"sc":596,"sb":1259},{"sc":596,"sb":1585},
{"sc":668,"sb":133},{"sc":668,"sb":150},{"sc":668,"sb":188},{"sc":668,"sb":211},{"sc":668,"sb":237},{"sc":668,"sb":266},{"sc":668,"sb":299},{"sc":668,"sb":335},{"sc":668,"sb":422},{"sc":668,"sb":473},{"sc":668,"sb":531},{"sc":668,"sb":596},{"sc":668,"sb":668},{"sc":668,"sb":841},{"sc":668,"sb":944},{"sc":668,"sb":1059},{"sc":668,"sb":1189},{"sc":668,"sb":1334},{"sc":668,"sb":1679},{"sc":668,"sb":1884},
{"sc":750,"sb":141},{"sc":750,"sb":158},{"sc":750,"sb":200},{"sc":750,"sb":224},{"sc":750,"sb":251},{"sc":750,"sb":282},{"sc":750,"sb":316},{"sc":750,"sb":355},{"sc":750,"sb":447},{"sc":750,"sb":501},{"sc":750,"sb":562},{"sc":750,"sb":631},{"sc":750,"sb":708},{"sc":750,"sb":891},{"sc":750,"sb":1000},{"sc":750,"sb":1122},{"sc":750,"sb":1259},{"sc":750,"sb":1413},{"sc":750,"sb":1778},{"sc":750,"sb":1995},
{"sc":841,"sb":150},{"sc":841,"sb":168},{"sc":841,"sb":211},{"sc":841,"sb":237},{"sc":841,"sb":266},{"sc":841,"sb":299},{"sc":841,"sb":335},{"sc":841,"sb":376},{"sc":841,"sb":473},{"sc":841,"sb":531},{"sc":841,"sb":596},{"sc":841,"sb":668},{"sc":841,"sb":750},{"sc":841,"sb":944},{"sc":841,"sb":1059},{"sc":841,"sb":1189},{"sc":841,"sb":1334},{"sc":841,"sb":1496},{"sc":841,"sb":1884},{"sc":841,"sb":2113},
{"sc":944,"sb":158},{"sc":944,"sb":178},{"sc":944,"sb":224},{"sc":944,"sb":251},{"sc":944,"sb":282},{"sc":944,"sb":316},{"sc":944,"sb":355},{"sc":944,"sb":398},{"sc":944,"sb":501},{"sc":944,"sb":562},{"sc":944,"sb":631},{"sc":944,"sb":708},{"sc":944,"sb":794},{"sc":944,"sb":1000},{"sc":944,"sb":1122},{"sc":944,"sb":1259},{"sc":944,"sb":1413},{"sc":944,"sb":1585},{"sc":944,"sb":1995},{"sc":944,"sb":2239},
{"sc":1059,"sb":168},{"sc":1059,"sb":188},{"sc":1059,"sb":237},{"sc":1059,"sb":266},{"sc":1059,"sb":299},{"sc":1059,"sb":335},{"sc":1059,"sb":376},{"sc":1059,"sb":422},{"sc":1059,"sb":531},{"sc":1059,"sb":596},{"sc":1059,"sb":668},{"sc":1059,"sb":750},{"sc":1059,"sb":841},{"sc":1059,"sb":1059},{"sc":1059,"sb":1189},{"sc":1059,"sb":1334},{"sc":1059,"sb":1496},{"sc":1059,"sb":1679},{"sc":1059,"sb":2113},{"sc":1059,"sb":2371},
{"sc":1189,"sb":200},{"sc":1189,"sb":224},{"sc":1189,"sb":282},{"sc":1189,"sb":316},{"sc":1189,"sb":355},{"sc":1189,"sb":398},{"sc":1189,"sb":447},{"sc":1189,"sb":562},{"sc":1189,"sb":631},{"sc":1189,"sb":708},{"sc":1189,"sb":794},{"sc":1189,"sb":891},{"sc":1189,"sb":1122},{"sc":1189,"sb":1259},{"sc":1189,"sb":1413},{"sc":1189,"sb":1585},{"sc":1189,"sb":1778},{"sc":1189,"sb":2239},{"sc":1189,"sb":2512},
{"sc":1334,"sb":211},{"sc":1334,"sb":237},{"sc":1334,"sb":299},{"sc":1334,"sb":335},{"sc":1334,"sb":376},{"sc":1334,"sb":422},{"sc":1334,"sb":473},{"sc":1334,"sb":596},{"sc":1334,"sb":668},{"sc":1334,"sb":750},{"sc":1334,"sb":841},{"sc":1334,"sb":944},{"sc":1334,"sb":1189},{"sc":1334,"sb":1334},{"sc":1334,"sb":1496},{"sc":1334,"sb":1679},{"sc":1334,"sb":1884},{"sc":1334,"sb":2371},{"sc":1334,"sb":2661},
{"sc":1496,"sb":251},{"sc":1496,"sb":282},{"sc":1496,"sb":355},{"sc":1496,"sb":398},{"sc":1496,"sb":447},{"sc":1496,"sb":501},{"sc":1496,"sb":562},{"sc":1496,"sb":708},{"sc":1496,"sb":794},{"sc":1496,"sb":891},{"sc":1496,"sb":1000},{"sc":1496,"sb":1122},{"sc":1496,"sb":1413},{"sc":1496,"sb":1585},{"sc":1496,"sb":1778},{"sc":1496,"sb":1995},{"sc":1496,"sb":2512},{"sc":1496,"sb":2818},
{"sc":1679,"sb":266},{"sc":1679,"sb":299},{"sc":1679,"sb":376},{"sc":1679,"sb":422},{"sc":1679,"sb":473},{"sc":1679,"sb":531},{"sc":1679,"sb":596},{"sc":1679,"sb":750},{"sc":1679,"sb":841},{"sc":1679,"sb":944},{"sc":1679,"sb":1059},{"sc":1679,"sb":1189},{"sc":1679,"sb":1496},{"sc":1679,"sb":1679},{"sc":1679,"sb":1884},{"sc":1679,"sb":2113},{"sc":1679,"sb":2661},{"sc":1679,"sb":2985},
{"sc":1884,"sb":316},{"sc":1884,"sb":355},{"sc":1884,"sb":447},{"sc":1884,"sb":501},{"sc":1884,"sb":562},{"sc":1884,"sb":631},{"sc":1884,"sb":708},{"sc":1884,"sb":891},{"sc":1884,"sb":1000},{"sc":1884,"sb":1122},{"sc":1884,"sb":1259},{"sc":1884,"sb":1413},{"sc":1884,"sb":1778},{"sc":1884,"sb":1995},{"sc":1884,"sb":2239},{"sc":1884,"sb":2512},{"sc":1884,"sb":3162},
{"sc":2113,"sb":335},{"sc":2113,"sb":376},{"sc":2113,"sb":473},{"sc":2113,"sb":531},{"sc":2113,"sb":596},{"sc":2113,"sb":668},{"sc":2113,"sb":750},{"sc":2113,"sb":944},{"sc":2113,"sb":1059},{"sc":2113,"sb":1189},{"sc":2113,"sb":1334},{"sc":2113,"sb":1496},{"sc":2113,"sb":1884},{"sc":2113,"sb":2113},{"sc":2113,"sb":2371},{"sc":2113,"sb":2661},{"sc":2113,"sb":3350},
{"sc":2371,"sb":398},{"sc":2371,"sb":447},{"sc":2371,"sb":562},{"sc":2371,"sb":631},{"sc":2371,"sb":708},{"sc":2371,"sb":794},{"sc":2371,"sb":891},{"sc":2371,"sb":1122},{"sc":2371,"sb":1259},{"sc":2371,"sb":1413},{"sc":2371,"sb":1585},{"sc":2371,"sb":1778},{"sc":2371,"sb":2239},{"sc":2371,"sb":2512},{"sc":2371,"sb":2818},{"sc":2371,"sb":3162},{"sc":2371,"sb":3548},
{"sc":2661,"sb":422},{"sc":2661,"sb":473},{"sc":2661,"sb":596},{"sc":2661,"sb":668},{"sc":2661,"sb":750},{"sc":2661,"sb":841},{"sc":2661,"sb":944},{"sc":2661,"sb":1189},{"sc":2661,"sb":1334},{"sc":2661,"sb":1496},{"sc":2661,"sb":1679},{"sc":2661,"sb":1884},{"sc":2661,"sb":2371},{"sc":2661,"sb":2661},{"sc":2661,"sb":2985},{"sc":2661,"sb":3350},{"sc":2661,"sb":3758},
{"sc":2985,"sb":501},{"sc":2985,"sb":562},{"sc":2985,"sb":708},{"sc":2985,"sb":794},{"sc":2985,"sb":891},{"sc":2985,"sb":1000},{"sc":2985,"sb":1122},{"sc":2985,"sb":1413},{"sc":2985,"sb":1585},{"sc":2985,"sb":1778},{"sc":2985,"sb":1995},{"sc":2985,"sb":2239},{"sc":2985,"sb":2818},{"sc":2985,"sb":3162},{"sc":2985,"sb":3548},{"sc":2985,"sb":3981},
{"sc":3350,"sb":531},{"sc":3350,"sb":596},{"sc":3350,"sb":750},{"sc":3350,"sb":841},{"sc":3350,"sb":944},{"sc":3350,"sb":1059},{"sc":3350,"sb":1189},{"sc":3350,"sb":1496},{"sc":3350,"sb":1679},{"sc":3350,"sb":1884},{"sc":3350,"sb":2113},{"sc":3350,"sb":2371},{"sc":3350,"sb":2985},{"sc":3350,"sb":3350},{"sc":3350,"sb":3758},{"sc":3350,"sb":4217},
{"sc":3758,"sb":631},{"sc":3758,"sb":708},{"sc":3758,"sb":891},{"sc":3758,"sb":1000},{"sc":3758,"sb":1122},{"sc":3758,"sb":1259},{"sc":3758,"sb":1413},{"sc":3758,"sb":1778},{"sc":3758,"sb":1995},{"sc":3758,"sb":2239},{"sc":3758,"sb":2512},{"sc":3758,"sb":2818},{"sc":3758,"sb":3548},{"sc":3758,"sb":3981},{"sc":3758,"sb":4467},
{"sc":4217,"sb":668},{"sc":4217,"sb":750},{"sc":4217,"sb":944},{"sc":4217,"sb":1059},{"sc":4217,"sb":1189},{"sc":4217,"sb":1334},{"sc":4217,"sb":1496},{"sc":4217,"sb":1884},{"sc":4217,"sb":2113},{"sc":4217,"sb":2371},{"sc":4217,"sb":2661},{"sc":4217,"sb":2985},{"sc":4217,"sb":3758},{"sc":4217,"sb":4217},{"sc":4217,"sb":4732},
{"sc":4732,"sb":794},{"sc":4732,"sb":891},{"sc":4732,"sb":1122},{"sc":4732,"sb":1259},{"sc":4732,"sb":1413},{"sc":4732,"sb":1585},{"sc":4732,"sb":1778},{"sc":4732,"sb":2239},{"sc":4732,"sb":2512},{"sc":4732,"sb":2818},{"sc":4732,"sb":3162},{"sc":4732,"sb":3548},{"sc":4732,"sb":4467},{"sc":4732,"sb":5012},
{"sc":5309,"sb":841},{"sc":5309,"sb":944},{"sc":5309,"sb":1189},{"sc":5309,"sb":1334},{"sc":5309,"sb":1496},{"sc":5309,"sb":1679},{"sc":5309,"sb":1884},{"sc":5309,"sb":2371},{"sc":5309,"sb":2661},{"sc":5309,"sb":2985},{"sc":5309,"sb":3350},{"sc":5309,"sb":3758},{"sc":5309,"sb":4732},{"sc":5309,"sb":5309},
{"sc":5957,"sb":1000},{"sc":5957,"sb":1122},{"sc":5957,"sb":1413},{"sc":5957,"sb":1585},{"sc":5957,"sb":1778},{"sc":5957,"sb":1995},{"sc":5957,"sb":2239},{"sc":5957,"sb":2818},{"sc":5957,"sb":3162},{"sc":5957,"sb":3548},{"sc":5957,"sb":3981},{"sc":5957,"sb":5012},{"sc":5957,"sb":5623},
{"sc":6683,"sb":1189},{"sc":6683,"sb":1334},{"sc":6683,"sb":1679},{"sc":6683,"sb":1884},{"sc":6683,"sb":2113},{"sc":6683,"sb":2371},{"sc":6683,"sb":2661},{"sc":6683,"sb":3350},{"sc":6683,"sb":3758},{"sc":6683,"sb":4217},{"sc":6683,"sb":4732},{"sc":6683,"sb":5957},
{"sc":7499,"sb":1413},{"sc":7499,"sb":1585},{"sc":7499,"sb":1995},{"sc":7499,"sb":2239},{"sc":7499,"sb":2512},{"sc":7499,"sb":2818},{"sc":7499,"sb":3162},{"sc":7499,"sb":3981},{"sc":7499,"sb":4467},{"sc":7499,"sb":5012},{"sc":7499,"sb":6310},
{"sc":8414,"sb":1679},{"sc":8414,"sb":1884},{"sc":8414,"sb":2371},{"sc":8414,"sb":2661},{"sc":8414,"sb":2985},{"sc":8414,"sb":3350},{"sc":8414,"sb":3758},{"sc":8414,"sb":4732},{"sc":8414,"sb":5309},{"sc":8414,"sb":5957},{"sc":8414,"sb":6683},
{"sc":9441,"sb":1995},{"sc":9441,"sb":2239},{"sc":9441,"sb":2818},{"sc":9441,"sb":3162},{"sc":9441,"sb":3548},{"sc":9441,"sb":3981},{"sc":9441,"sb":5012},{"sc":9441,"sb":5623},{"sc":9441,"sb":6310}
]
},
"layer": [
{
"data": {"name": "ortholog"},
"mark": {"type": "point", "filled": true, "size": 45, "opacity": 1},
"encoding": {
"x": {"field": "sc", "type": "quantitative", "scale": {"type": "log", "domain": [1, 1000000], "nice": false},
 "axis": {"orient": "bottom", "domain": false, "grid": false,
  "values": [1,2,3,4,5,6,7,8,9,10,20,30,40,50,60,70,80,90,100,200,300,400,500,600,700,800,900,1000,2000,3000,4000,5000,6000,7000,8000,9000,10000,20000,30000,40000,50000,60000,70000,80000,90000,100000,200000,300000,400000,500000,600000,700000,800000,900000,1000000],
  "labelExpr": "abs(log(datum.value)/LN10 - round(log(datum.value)/LN10)) < 0.001 ? '10' + ['⁰','¹','²','³','⁴','⁵','⁶'][round(log(datum.value)/LN10)] : ''",
  "labelOverlap": false, "labelFlush": false, "labelFont": "Liberation Sans", "labelFontSize": 19, "labelColor": "black", "labelPadding": 28,
  "tickColor": "black", "tickWidth": 1,
  "tickSize": {"condition": {"test": "abs(log(datum.value)/LN10 - round(log(datum.value)/LN10)) < 0.001", "value": -10}, "value": -5},
  "title": "S. cerevisiae (Uniquely Aligned Reads Per Gene)", "titleFont": "Liberation Sans", "titleFontSize": 19, "titleFontWeight": "normal", "titleColor": "black", "titlePadding": 6}},
"y": {"field": "sb", "type": "quantitative", "scale": {"type": "log", "domain": [1, 1000000], "nice": false},
 "axis": {"orient": "left", "domain": false, "grid": false,
  "values": [1,2,3,4,5,6,7,8,9,10,20,30,40,50,60,70,80,90,100,200,300,400,500,600,700,800,900,1000,2000,3000,4000,5000,6000,7000,8000,9000,10000,20000,30000,40000,50000,60000,70000,80000,90000,100000,200000,300000,400000,500000,600000,700000,800000,900000,1000000],
  "labelExpr": "abs(log(datum.value)/LN10 - round(log(datum.value)/LN10)) < 0.001 ? '10' + ['⁰','¹','²','³','⁴','⁵','⁶'][round(log(datum.value)/LN10)] : ''",
  "labelOverlap": false, "labelFlush": false, "labelFont": "Liberation Sans", "labelFontSize": 19, "labelColor": "black", "labelPadding": 18,
  "tickColor": "black", "tickWidth": 1,
  "tickSize": {"condition": {"test": "abs(log(datum.value)/LN10 - round(log(datum.value)/LN10)) < 0.001", "value": -10}, "value": -5},
  "title": "S. bayanus (Uniquely Aligned Reads Per Gene)", "titleFont": "Liberation Sans", "titleFontSize": 19, "titleFontWeight": "normal", "titleColor": "black", "titlePadding": 10}},
"color": {"datum": "1:1 Ortholog", "type": "nominal", "title": null,
 "scale": {"domain": ["1:1 Ortholog", "Non-Diverged Paralog", "Diverged Paralog"], "range": ["#e0e0e0", "#ff0000", "#0000ff"]},
 "legend": {"orient": "none", "legendX": 50, "legendY": 36, "title": null, "strokeColor": "black", "fillColor": "white", "padding": 9,
  "symbolType": "circle", "symbolSize": 45, "symbolOffset": 24, "symbolStrokeWidth": 0, "labelOffset": 26, "labelFont": "Liberation Sans", "labelFontSize": 19, "labelColor": "black", "labelLimit": 400, "rowPadding": 9}}
}
},
{
"data": {"name": "paralog"},
"mark": {"type": "rule", "color": "#aaaaaa", "strokeWidth": 1},
"encoding": {
"x": {"field": "sc", "type": "quantitative", "scale": {"type": "log", "domain": [1, 1000000], "nice": false},
 "axis": {"orient": "top", "domain": false, "grid": false, "labels": false, "title": null,
  "values": [1,2,3,4,5,6,7,8,9,10,20,30,40,50,60,70,80,90,100,200,300,400,500,600,700,800,900,1000,2000,3000,4000,5000,6000,7000,8000,9000,10000,20000,30000,40000,50000,60000,70000,80000,90000,100000,200000,300000,400000,500000,600000,700000,800000,900000,1000000],
  "tickColor": "black", "tickWidth": 1,
  "tickSize": {"condition": {"test": "abs(log(datum.value)/LN10 - round(log(datum.value)/LN10)) < 0.001", "value": -10}, "value": -5}}},
"y": {"field": "Non-Diverged Paralog", "type": "quantitative", "scale": {"type": "log", "domain": [1, 1000000], "nice": false},
 "axis": {"orient": "right", "domain": false, "grid": false, "labels": false, "title": null,
  "values": [1,2,3,4,5,6,7,8,9,10,20,30,40,50,60,70,80,90,100,200,300,400,500,600,700,800,900,1000,2000,3000,4000,5000,6000,7000,8000,9000,10000,20000,30000,40000,50000,60000,70000,80000,90000,100000,200000,300000,400000,500000,600000,700000,800000,900000,1000000],
  "tickColor": "black", "tickWidth": 1,
  "tickSize": {"condition": {"test": "abs(log(datum.value)/LN10 - round(log(datum.value)/LN10)) < 0.001", "value": -10}, "value": -5}}},
"y2": {"field": "Diverged Paralog"}
}
},
{
"data": {"name": "paralog"},
"transform": [{"fold": ["Non-Diverged Paralog", "Diverged Paralog"], "as": ["type", "sb"]}],
"mark": {"type": "point", "filled": true, "size": 45, "opacity": 1},
"encoding": {
"x": {"field": "sc", "type": "quantitative", "scale": {"type": "log", "domain": [1, 1000000], "nice": false}, "axis": null},
"y": {"field": "sb", "type": "quantitative", "scale": {"type": "log", "domain": [1, 1000000], "nice": false}, "axis": null},
"color": {"field": "type", "type": "nominal", "title": null, "legend": {"title": null}}
}
},
{
"data": {"name": "paralog"},
"transform": [{"filter": {"not": {"field": "gene", "oneOf": ["YLR125W", "YIL164C", "YBL042C", "YLL056C", "YIL077C"]}}}],
"mark": {"type": "text", "align": "left", "baseline": "middle", "dx": 9, "font": "Liberation Sans", "fontWeight": "bold", "fontSize": 13, "color": "black"},
"encoding": {
"x": {"field": "sc", "type": "quantitative", "axis": null},
"y": {"field": "Non-Diverged Paralog", "type": "quantitative", "axis": null},
"text": {"field": "gene"}
}
},
{
"data": {"name": "paralog"},
"transform": [{"filter": {"field": "gene", "oneOf": ["YLR125W", "YIL164C", "YBL042C"]}}],
"mark": {"type": "text", "align": "right", "baseline": "middle", "dx": -11, "font": "Liberation Sans", "fontWeight": "bold", "fontSize": 13, "color": "black"},
"encoding": {
"x": {"field": "sc", "type": "quantitative", "axis": null},
"y": {"field": "Non-Diverged Paralog", "type": "quantitative", "axis": null},
"text": {"field": "gene"}
}
},
{
"data": {"name": "paralog"},
"transform": [{"filter": {"field": "gene", "equal": "YLL056C"}}],
"mark": {"type": "text", "align": "left", "baseline": "middle", "dx": 10, "dy": 8, "font": "Liberation Sans", "fontWeight": "bold", "fontSize": 13, "color": "black"},
"encoding": {
"x": {"field": "sc", "type": "quantitative", "axis": null},
"y": {"field": "Non-Diverged Paralog", "type": "quantitative", "axis": null},
"text": {"field": "gene"}
}
},
{
"data": {"name": "paralog"},
"transform": [{"filter": {"field": "gene", "equal": "YIL077C"}}],
"mark": {"type": "text", "align": "left", "baseline": "middle", "dx": 9, "dy": -8, "font": "Liberation Sans", "fontWeight": "bold", "fontSize": 13, "color": "black"},
"encoding": {
"x": {"field": "sc", "type": "quantitative", "axis": null},
"y": {"field": "Non-Diverged Paralog", "type": "quantitative", "axis": null},
"text": {"field": "gene"}
}
}
],
"resolve": {"axis": {"x": "independent", "y": "independent"}}
}
